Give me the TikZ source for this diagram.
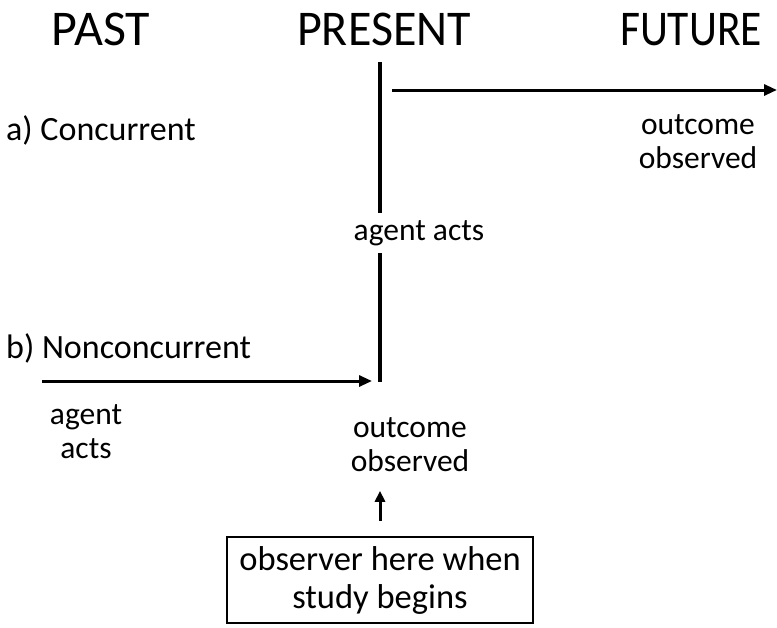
\documentclass[tikz,border=0pt]{standalone}
\usepackage{fontspec}
\setmainfont{Carlito}
\usetikzlibrary{arrows.meta}
\begin{document}
\begin{tikzpicture}[x=1pt,y=-1pt,
  head/.style={font=\fontsize{50}{56}\selectfont, inner sep=0pt, anchor=base},
  lbl/.style={font=\fontsize{31.5}{34}\selectfont, inner sep=0pt, align=center},
  case/.style={font=\fontsize{34}{38}\selectfont, inner sep=0pt, anchor=west},
  line/.style={line width=3.2pt},
  arr/.style={line width=3pt, -{Triangle[length=13pt,width=11pt]}}]
\useasboundingbox (0,0) rectangle (777,627);
\node[head] (past) at (101,45) {PAST};
\node[head] (present) at (384,45) {\scalebox{0.96}[1]{PRESENT}};
\node[head] (future) at (691,45) {\scalebox{0.87}[1]{FUTURE}};
\node[case] (conc) at (6,130) {a) Concurrent};
\node[case] (nonc) at (6,348) {b) Nonconcurrent};
\coordinate (vtop) at (380,62);
\node[lbl, minimum height=40pt] (aacts) at (419,233) {agent acts};
\coordinate (vbot) at (380,382);
\draw[line] (vtop) -- (aacts.north -| vtop);
\draw[line] (aacts.south -| vtop) -- (vbot);
\coordinate (a1s) at (392,90);
\coordinate (a1e) at (777,90);
\draw[arr] (a1s) -- (a1e);
\node[lbl] (out1) at (698,142) {outcome\\observed};
\coordinate (a2s) at (42,381);
\coordinate (a2e) at (372,381);
\draw[arr] (a2s) -- (a2e);
\node[lbl] (bacts) at (86,432) {agent\\acts};
\node[lbl] (out2) at (410,445) {outcome\\observed};
\node[draw, line width=2.4pt, font=\fontsize{34.5}{38}\selectfont, align=center, minimum width=306pt, minimum height=86pt, inner sep=0pt] (obs) at (380,580) {observer here when\\study begins};
\draw[line width=3pt, -{Triangle[length=11pt,width=10pt]}] ([yshift=15pt]obs.north) -- ([yshift=45pt]obs.north);
\end{tikzpicture}
\end{document}
